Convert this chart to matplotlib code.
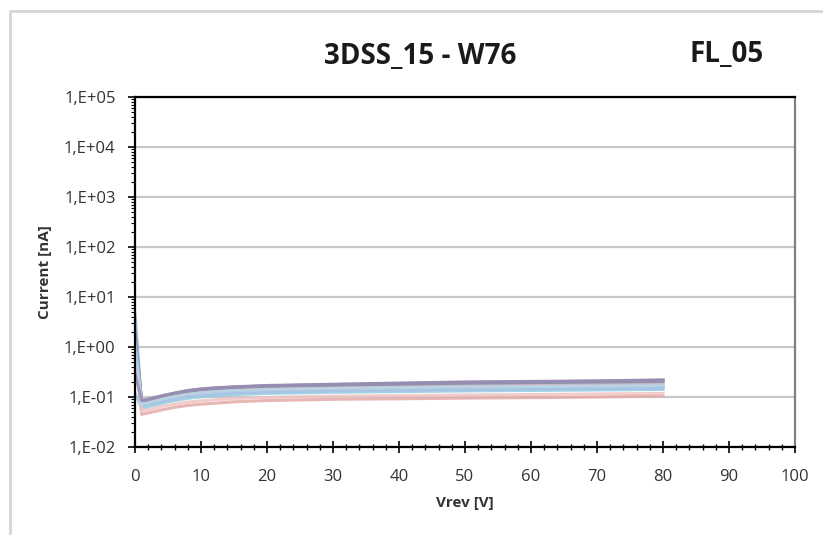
import numpy as np
import matplotlib.pyplot as plt
from matplotlib.ticker import FixedLocator, LogLocator, NullFormatter, MultipleLocator
from matplotlib.patches import Rectangle

plt.rcParams['font.family'] = ['Open Sans', 'DejaVu Sans']

# reverse voltage steps [V]
vrev = [0, 1, 2, 4, 6, 8, 10, 12, 15, 20, 30, 40, 50, 60, 70, 80]

# leakage current per channel [nA]
ch01 = [4.5, 0.070, 0.074, 0.085, 0.097, 0.108, 0.116, 0.122, 0.128, 0.134, 0.140, 0.145, 0.150, 0.153, 0.156, 0.160]
ch02 = [1.0, 0.045, 0.048, 0.055, 0.062, 0.068, 0.072, 0.075, 0.080, 0.085, 0.090, 0.092, 0.095, 0.097, 0.100, 0.105]
ch03 = [0.6, 0.080, 0.085, 0.100, 0.114, 0.126, 0.136, 0.143, 0.150, 0.158, 0.166, 0.172, 0.178, 0.182, 0.186, 0.190]
ch04 = [1.5, 0.085, 0.090, 0.105, 0.120, 0.135, 0.145, 0.152, 0.160, 0.170, 0.180, 0.190, 0.200, 0.205, 0.210, 0.220]
ch05 = [0.12, 0.060, 0.064, 0.074, 0.085, 0.094, 0.101, 0.106, 0.112, 0.118, 0.124, 0.128, 0.132, 0.135, 0.138, 0.142]
ch06 = [0.9, 0.075, 0.080, 0.094, 0.107, 0.118, 0.127, 0.133, 0.140, 0.147, 0.154, 0.160, 0.165, 0.168, 0.171, 0.175]
ch07 = [3.0, 0.065, 0.069, 0.080, 0.091, 0.101, 0.108, 0.113, 0.119, 0.125, 0.131, 0.135, 0.139, 0.142, 0.145, 0.148]
ch08 = [0.4, 0.078, 0.083, 0.097, 0.111, 0.122, 0.131, 0.138, 0.145, 0.153, 0.160, 0.166, 0.171, 0.175, 0.178, 0.182]
ch09 = [2.0, 0.082, 0.087, 0.102, 0.117, 0.130, 0.140, 0.147, 0.155, 0.164, 0.173, 0.181, 0.189, 0.194, 0.199, 0.205]
ch10 = [0.7, 0.052, 0.056, 0.064, 0.072, 0.079, 0.084, 0.088, 0.093, 0.098, 0.104, 0.107, 0.110, 0.112, 0.115, 0.118]
ch11 = [1.2, 0.072, 0.077, 0.090, 0.102, 0.113, 0.121, 0.127, 0.134, 0.141, 0.148, 0.153, 0.158, 0.161, 0.164, 0.168]
ch12 = [0.3, 0.084, 0.089, 0.104, 0.119, 0.133, 0.143, 0.150, 0.158, 0.167, 0.177, 0.186, 0.195, 0.201, 0.207, 0.215]

channels = [ch01, ch02, ch03, ch04, ch05, ch06, ch07, ch08, ch09, ch10, ch11, ch12]
colors = ['#7fa6d6', '#e3a9a7', '#b7cf8f', '#8a7aa6', '#8fd0e0', '#f5b98a',
          '#a9c3e6', '#c9b4d9', '#7f8f9f', '#f0c4c2', '#b8d8e8', '#9b8db5']

ytick_vals = [1e-2, 1e-1, 1e0, 1e1, 1e2, 1e3, 1e4, 1e5]
ytick_labels = ['1,E-02', '1,E-01', '1,E+00', '1,E+01', '1,E+02', '1,E+03', '1,E+04', '1,E+05']

W, H = 823, 535
fig = plt.figure(figsize=(W / 100, H / 100), dpi=100)
fig.patch.set_facecolor('white')

# chart frame
fig.add_artist(Rectangle((10 / W, -0.05), 1.0, 1 - 11 / H + 0.05, transform=fig.transFigure,
                         fill=False, edgecolor='#d6d6d6', linewidth=2.0))

ax = fig.add_axes([135 / W, 1 - 447 / H, 660 / W, 350 / H])

for vals, c in zip(channels, colors):
    ax.plot(vrev, vals, color=c, linewidth=2.2, alpha=0.85, solid_joinstyle='round')

ax.set_yscale('log')
ax.set_ylim(1e-2, 1e5)
ax.set_xlim(0, 100)

ax.yaxis.set_major_locator(FixedLocator(ytick_vals))
ax.set_yticklabels(ytick_labels)
ax.yaxis.set_minor_locator(LogLocator(base=10, subs=np.arange(2, 10)))
ax.yaxis.set_minor_formatter(NullFormatter())
ax.xaxis.set_major_locator(MultipleLocator(10))
ax.xaxis.set_minor_locator(MultipleLocator(2))

ax.grid(axis='y', which='major', color='#c8c8c8', linewidth=1.6)
ax.set_axisbelow(True)

for side in ['left', 'bottom', 'top']:
    ax.spines[side].set_color('black')
    ax.spines[side].set_linewidth(1.6)
ax.spines['right'].set_color('#808080')
ax.spines['right'].set_linewidth(1.6)

ax.tick_params(axis='x', which='major', direction='inout', length=8, width=1.2, labelsize=12, pad=12, colors='black', labelcolor='#333333')
ax.tick_params(axis='x', which='minor', direction='inout', length=4, width=1.0)
ax.tick_params(axis='y', which='major', direction='out', length=5, width=1.2, labelsize=12, pad=9, labelcolor='#333333')
ax.tick_params(axis='y', which='minor', direction='out', length=3, width=0.8)

fig.text(465 / W, 1 - 503 / H, 'Vrev [V]', fontsize=11, fontweight='bold', color='#333333', ha='center', va='center')
fig.text(45 / W, 1 - 272 / H, 'Current [nA]', fontsize=11, fontweight='bold', color='#333333', ha='center', va='center', rotation=90)

fig.text(420 / W, 1 - 64 / H, '3DSS_15 - W76', fontsize=20, fontweight='bold', ha='center', va='baseline', color='#1a1a1a')
fig.text(727 / W, 1 - 62 / H, 'FL_05', fontsize=20, fontweight='bold', ha='center', va='baseline', color='#1a1a1a')

fig.savefig('out.png', dpi=100)
